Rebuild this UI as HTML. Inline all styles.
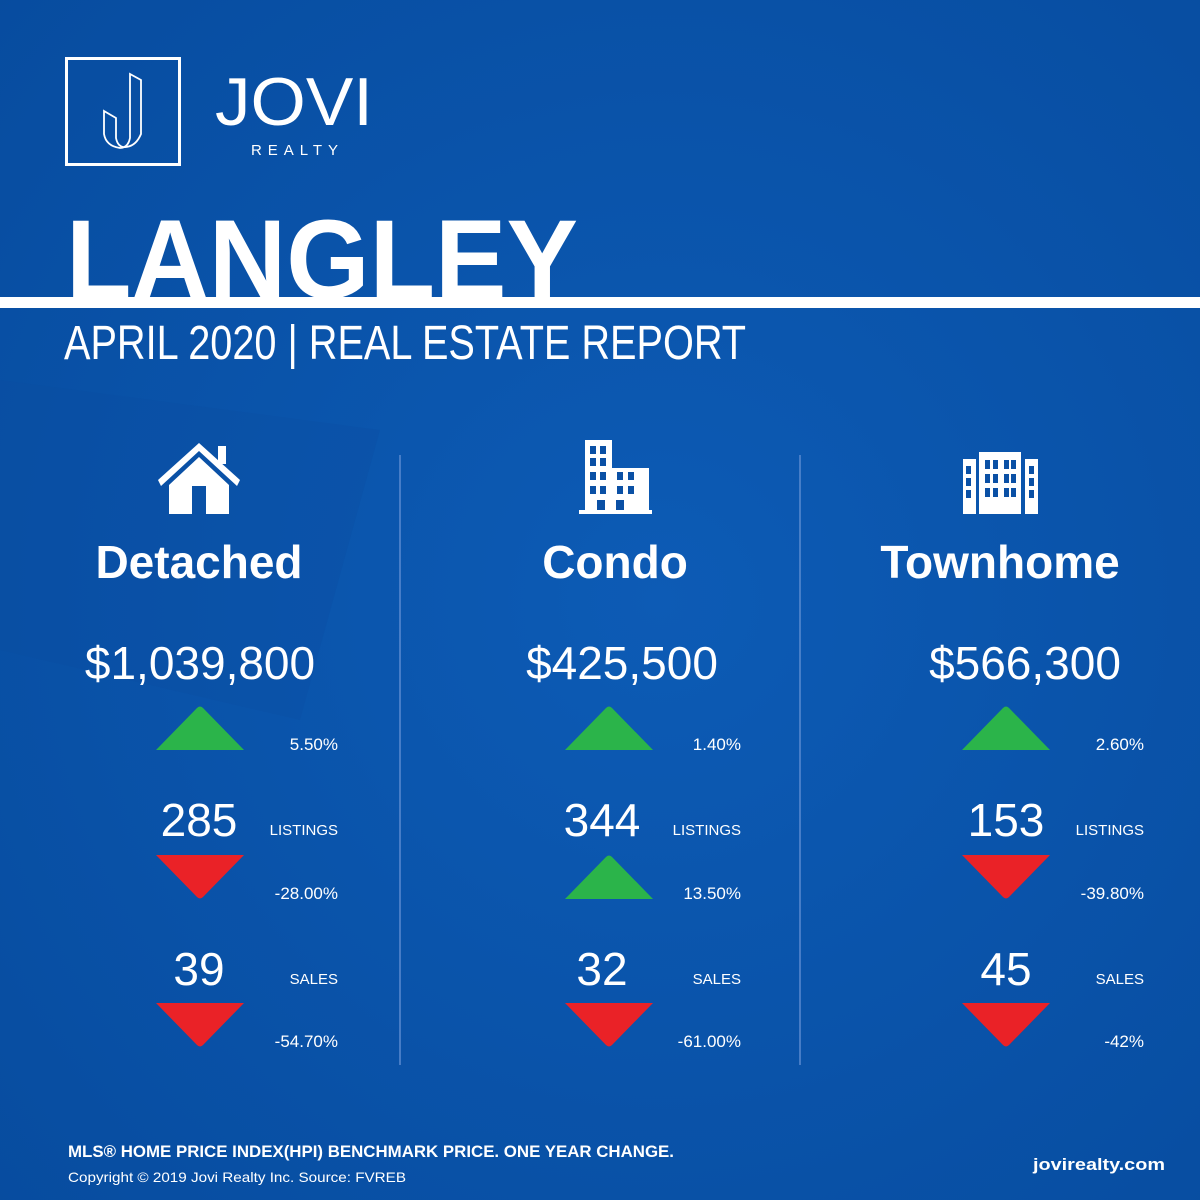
<!DOCTYPE html>
<html><head><meta charset="utf-8"><style>
html,body{margin:0;padding:0;width:1200px;height:1200px;overflow:hidden;background:#0a50a5}
svg{display:block}
text{font-family:"Liberation Sans",sans-serif;fill:#fff}
</style></head><body>
<svg id="s" width="1200" height="1200" viewBox="0 0 1200 1200">
<defs>
<radialGradient id="bg" cx="0.55" cy="0.5" r="0.75">
<stop offset="0" stop-color="#0d5bb5"/><stop offset="1" stop-color="#074c9f"/>
</radialGradient>
</defs>
<rect width="1200" height="1200" fill="url(#bg)"/>
<polygon points="0,380 380,430 300,720 0,650" fill="#0a4aa0" opacity="0.25"/>
<g>
<rect x="66.5" y="58.5" width="113" height="106" fill="none" stroke="#fff" stroke-width="3"/>
<path d="M104,111 L116,118 L116,138 Q118,148 126,147 Q136,146 141,134 L141,80 L130,74 L130,138 Q128,148 120,148 Q106,146 104,134 Z" fill="none" stroke="#fff" stroke-width="1.8"/>
<text x="215" y="125" font-size="68" font-weight="300" textLength="158" lengthAdjust="spacingAndGlyphs">JOVI</text>
<text x="251" y="155" font-size="15" letter-spacing="5" textLength="92">REALTY</text>
</g>
<text x="66" y="298" font-size="112" font-weight="bold" textLength="512" lengthAdjust="spacingAndGlyphs">LANGLEY</text>
<rect x="0" y="297" width="1200" height="11" fill="#fff"/>
<text x="64" y="359" font-size="48" textLength="682" lengthAdjust="spacingAndGlyphs">APRIL 2020 | REAL ESTATE REPORT</text>
<line x1="400" y1="455" x2="400" y2="1065" stroke="#5a8ad0" stroke-width="1.5"/>
<line x1="800" y1="455" x2="800" y2="1065" stroke="#5a8ad0" stroke-width="1.5"/>
<g fill="#fff">
<polygon points="158,480 199,443 240,480 237,486 199,451 161,486"/>
<rect x="218" y="446" width="8" height="18"/>
<path d="M169,485 L199,457 L229,485 L229,514 L206,514 L206,486 L192,486 L192,514 L169,514 Z"/>
</g>
<g fill="#fff">
<path d="M585,440 L612,440 L612,468 L649,468 L649,510 L652,510 L652,514 L579,514 L579,510 L585,510 Z"/>
<g fill="#0a50a5">
<rect x="590" y="446" width="6" height="8"/><rect x="600" y="446" width="6" height="8"/>
<rect x="590" y="458" width="6" height="8"/><rect x="600" y="458" width="6" height="8"/>
<rect x="590" y="472" width="6" height="8"/><rect x="600" y="472" width="6" height="8"/>
<rect x="617" y="472" width="6" height="8"/><rect x="628" y="472" width="6" height="8"/>
<rect x="590" y="486" width="6" height="8"/><rect x="600" y="486" width="6" height="8"/>
<rect x="617" y="486" width="6" height="8"/><rect x="628" y="486" width="6" height="8"/>
<rect x="597" y="500" width="8" height="10"/><rect x="616" y="500" width="8" height="10"/>
</g></g>
<g fill="#fff">
<rect x="963" y="459" width="13" height="55"/><rect x="1025" y="459" width="13" height="55"/>
<rect x="979" y="452" width="42" height="62"/>
<g fill="#0a50a5">
<rect x="966" y="466" width="5" height="8"/><rect x="966" y="478" width="5" height="8"/><rect x="966" y="490" width="5" height="8"/>
<rect x="1029" y="466" width="5" height="8"/><rect x="1029" y="478" width="5" height="8"/><rect x="1029" y="490" width="5" height="8"/>
<rect x="985" y="460" width="5" height="9"/><rect x="993" y="460" width="5" height="9"/><rect x="1004" y="460" width="5" height="9"/><rect x="1011" y="460" width="5" height="9"/>
<rect x="985" y="474" width="5" height="9"/><rect x="993" y="474" width="5" height="9"/><rect x="1004" y="474" width="5" height="9"/><rect x="1011" y="474" width="5" height="9"/>
<rect x="985" y="488" width="5" height="9"/><rect x="993" y="488" width="5" height="9"/><rect x="1004" y="488" width="5" height="9"/><rect x="1011" y="488" width="5" height="9"/>
</g></g>
<g id="cols"></g>
<text x="68" y="1157" font-size="17" font-weight="bold" textLength="606" lengthAdjust="spacingAndGlyphs">MLS® HOME PRICE INDEX(HPI) BENCHMARK PRICE. ONE YEAR CHANGE.</text>
<text x="68" y="1182" font-size="14" textLength="338" lengthAdjust="spacingAndGlyphs">Copyright © 2019 Jovi Realty Inc. Source: FVREB</text>
<text x="1165" y="1170" font-size="17" font-weight="bold" text-anchor="end" textLength="132" lengthAdjust="spacingAndGlyphs">jovirealty.com</text>
</svg>
<script>
const categories = ["Detached", "Condo", "Townhome"];
const prices = ["$1,039,800", "$425,500", "$566,300"];
const priceChange = [5.50, 1.40, 2.60];
const priceLabels = ["5.50%", "1.40%", "2.60%"];
const listings = [285, 344, 153];
const listingChange = [-28.00, 13.50, -39.80];
const listingLabels = ["-28.00%", "13.50%", "-39.80%"];
const sales = [39, 32, 45];
const salesChange = [-54.70, -61.00, -42];
const salesLabels = ["-54.70%", "-61.00%", "-42%"];

const NS = "http://www.w3.org/2000/svg";
const g = document.getElementById("cols");
const colX = [200, 609, 1006];
const titleX = [199, 615, 1000];
const priceX = [200, 622, 1025];
const numX = [199, 602, 1006];
const rightX = [338, 741, 1144];
function t(x, y, s, size, opts, name) {
  const e = document.createElementNS(NS, "text");
  e.setAttribute("x", x); e.setAttribute("y", y);
  e.setAttribute("font-size", size);
  for (const k in opts) e.setAttribute(k, opts[k]);
  e.textContent = s;
  
  
  g.appendChild(e);
}
function tri(cx, top, v, name) {
  const p = document.createElementNS(NS, "path");
  const h = 44, w = 44;
  let d;
  if (v >= 0) d = `M${cx-w},${top+h} L${cx-3},${top+2} Q${cx},${top-1} ${cx+3},${top+2} L${cx+w},${top+h} Z`;
  else d = `M${cx-w},${top} L${cx+w},${top} L${cx+3},${top+h-2} Q${cx},${top+h+1} ${cx-3},${top+h-2} Z`;
  p.setAttribute("d", d);
  p.setAttribute("fill", v >= 0 ? "#2bb44a" : "#ea2227");
  
  
  g.appendChild(p);
}
categories.forEach((c, i) => {
  const k = c.toLowerCase();
  t(titleX[i], 578, c, 46, {"font-weight": "bold", "text-anchor": "middle"}, k + "-title");
  t(priceX[i], 679, prices[i], 46, {"text-anchor": "middle"}, k + "-price");
  tri(colX[i], 706, priceChange[i], k + "-price-arrow");
  t(rightX[i], 750, priceLabels[i], 17, {"text-anchor": "end"}, k + "-price-change");
  t(numX[i], 836, String(listings[i]), 46, {"text-anchor": "middle"}, k + "-listings");
  t(rightX[i], 835, "LISTINGS", 15, {"text-anchor": "end"}, k + "-listings-label");
  tri(colX[i], 855, listingChange[i], k + "-listings-arrow");
  t(rightX[i], 899, listingLabels[i], 17, {"text-anchor": "end"}, k + "-listings-change");
  t(numX[i], 985, String(sales[i]), 46, {"text-anchor": "middle"}, k + "-sales");
  t(rightX[i], 984, "SALES", 15, {"text-anchor": "end"}, k + "-sales-label");
  tri(colX[i], 1003, salesChange[i], k + "-sales-arrow");
  t(rightX[i], 1047, salesLabels[i], 17, {"text-anchor": "end"}, k + "-sales-change");
});
</script>
</body></html>
